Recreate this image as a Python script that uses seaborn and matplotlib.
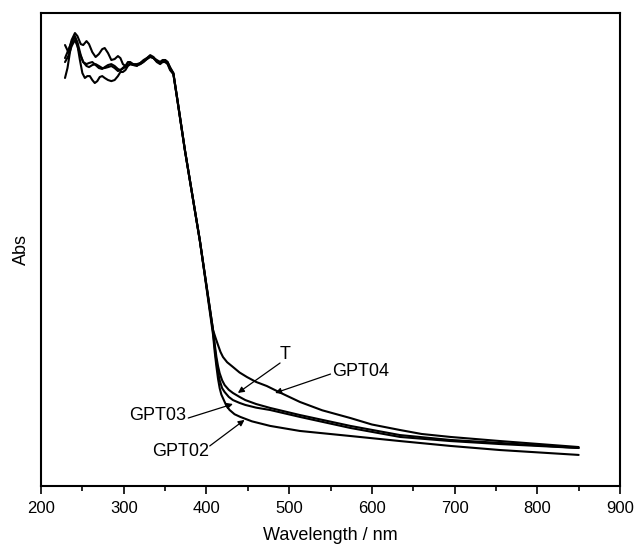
import matplotlib
matplotlib.use("Agg")
import matplotlib.pyplot as plt
import seaborn as sns
import pandas as pd

# UV-vis absorption spectra
wl_gpt04 = [229, 233, 237, 241, 244, 248, 251, 255, 258, 262, 266, 270, 274, 277, 281, 285,
            289, 293, 296, 299, 302, 305, 308, 312, 316, 320, 324, 328, 332, 336, 340, 344,
            347, 350, 353, 356,
            360, 365, 374, 392, 408, 411, 414, 417, 420, 425, 432, 440, 449, 460, 473, 490,
            513, 540, 574, 600, 634, 660, 695, 755, 850]
abs_gpt04 = [2.797, 2.752, 2.829, 2.873, 2.854, 2.803, 2.797, 2.822, 2.803, 2.752, 2.721, 2.740,
             2.771, 2.778, 2.746, 2.702, 2.708, 2.727, 2.714, 2.676, 2.664, 2.689, 2.689, 2.670,
             2.664, 2.683, 2.695, 2.714, 2.733, 2.721, 2.695, 2.683, 2.695, 2.702, 2.689, 2.651,
             2.619, 2.448, 2.131, 1.560, 0.989, 0.940, 0.894, 0.850, 0.818, 0.785, 0.755, 0.720,
             0.691, 0.660, 0.634, 0.590, 0.533, 0.480, 0.431, 0.390, 0.355, 0.330, 0.311, 0.285,
             0.247]

wl_t = [229, 232, 235, 238, 241, 244, 247, 250, 253, 256, 259, 262, 265, 268, 271, 274, 277,
        281, 285, 289, 293, 296, 299, 302, 305, 308, 312, 316, 320, 324, 328, 332, 336, 340,
        344, 347, 350, 353, 356,
        360, 365, 374, 392, 408, 410, 412, 414, 416, 419, 422, 427, 432, 440, 447, 460, 477,
        513, 574, 634, 695, 755, 850]
abs_t = [2.588, 2.651, 2.752, 2.829, 2.854, 2.797, 2.702, 2.619, 2.588, 2.600, 2.600, 2.575,
         2.556, 2.568, 2.594, 2.600, 2.588, 2.575, 2.568, 2.575, 2.600, 2.626, 2.626, 2.638,
         2.664, 2.676, 2.670, 2.670, 2.676, 2.689, 2.708, 2.727, 2.714, 2.689, 2.676, 2.689,
         2.689, 2.676, 2.638,
         2.612, 2.440, 2.125, 1.555, 0.989, 0.900, 0.820, 0.760, 0.715, 0.670, 0.640, 0.610,
         0.590, 0.565, 0.545, 0.520, 0.495, 0.450, 0.381, 0.323, 0.292, 0.273, 0.241]

wl_gpt03 = [229, 233, 237, 241, 244, 248, 251, 255, 258, 262, 266, 270, 274, 277, 281, 285,
            289, 293, 296, 300, 304, 308, 312, 316, 320, 324, 328, 332, 336, 340, 344, 347,
            350, 353, 356,
            360, 365, 374, 392, 408, 410, 412, 414, 416, 419, 422, 427, 432, 440, 447, 460, 477,
            513, 574, 634, 695, 755, 850]
abs_gpt03 = [2.714, 2.765, 2.816, 2.848, 2.816, 2.733, 2.689, 2.664, 2.657, 2.670, 2.676,
             2.664, 2.651, 2.651, 2.657, 2.664, 2.651, 2.632, 2.638, 2.657, 2.670, 2.676, 2.670,
             2.670, 2.676, 2.695, 2.708, 2.721, 2.714, 2.702, 2.689, 2.695, 2.695, 2.683, 2.645,
             2.615, 2.444, 2.128, 1.557, 0.977, 0.880, 0.790, 0.720, 0.670, 0.620, 0.596, 0.565,
             0.545, 0.527, 0.514, 0.497, 0.482, 0.438, 0.368, 0.311, 0.285, 0.266, 0.241]

wl_gpt02 = [229, 233, 237, 241, 244, 248, 251, 255, 258, 262, 266, 270, 274, 277, 281, 285,
            289, 293, 296, 300, 304, 308, 312, 316, 320, 324, 328, 332, 336, 340, 344, 347,
            350, 353, 356,
            360, 365, 374, 392, 408, 410, 412, 414, 416, 418, 421, 424, 428, 434, 441, 455, 477,
            513, 574, 634, 695, 755, 850]
abs_gpt02 = [2.689, 2.727, 2.790, 2.829, 2.790, 2.727, 2.689, 2.676, 2.683, 2.689, 2.670,
             2.651, 2.645, 2.657, 2.670, 2.676, 2.664, 2.645, 2.638, 2.651, 2.664, 2.683, 2.676,
             2.676, 2.683, 2.702, 2.714, 2.727, 2.714, 2.695, 2.689, 2.702, 2.702, 2.689, 2.657,
             2.619, 2.446, 2.130, 1.558, 0.958, 0.850, 0.760, 0.680, 0.620, 0.580, 0.545, 0.510,
             0.482, 0.455, 0.438, 0.410, 0.381, 0.349, 0.317, 0.285, 0.254, 0.228, 0.197]

series = {"GPT04": (wl_gpt04, abs_gpt04), "T": (wl_t, abs_t),
          "GPT03": (wl_gpt03, abs_gpt03), "GPT02": (wl_gpt02, abs_gpt02)}

frames = []
for name, (w, a) in series.items():
    frames.append(pd.DataFrame({"wl": w, "abs": a, "sample": name}))
df = pd.concat(frames, ignore_index=True)

sns.set_theme(style="ticks")
plt.rcParams["font.family"] = ["Liberation Sans", "DejaVu Sans"]
plt.rcParams["text.color"] = "black"
plt.rcParams["axes.labelcolor"] = "black"

fig = plt.figure(figsize=(6.35, 5.52), dpi=100)
ax = fig.add_axes([0.0646, 0.1196, 0.9118, 0.8568])

sns.lineplot(data=df, x="wl", y="abs", hue="sample", palette=["black"] * 4,
             linewidth=1.5, legend=False, ax=ax)

ax.set_xlim(200, 900)
ax.set_ylim(0, 3.0)
ax.set_xticks(range(200, 901, 100))
ax.set_xticks(range(250, 900, 100), minor=True)
ax.set_yticks([])
ax.tick_params(axis="x", which="major", direction="out", length=6, width=1.2,
               labelsize=12, colors="black", pad=5)
ax.tick_params(axis="x", which="minor", direction="out", length=3.5, width=1.2,
               colors="black")
for sp in ax.spines.values():
    sp.set_linewidth(1.5)
    sp.set_color("black")

ax.set_xlabel("Wavelength / nm", fontsize=13, labelpad=8)
ax.set_ylabel("Abs", fontsize=13, labelpad=8)

# labels with arrows
arrow = dict(arrowstyle="-|>", lw=0.9, color="black", shrinkA=0, shrinkB=0,
             mutation_scale=9)
ax.text(495, 0.831, "T", fontsize=13, ha="center", va="center")
ax.annotate("", xy=(438, 0.590), xytext=(489, 0.780), arrowprops=arrow)
ax.text(587, 0.729, "GPT04", fontsize=13, ha="center", va="center")
ax.annotate("", xy=(483, 0.590), xytext=(550, 0.710), arrowprops=arrow)
ax.text(341, 0.450, "GPT03", fontsize=13, ha="center", va="center")
ax.annotate("", xy=(432, 0.520), xytext=(378, 0.431), arrowprops=arrow)
ax.text(369, 0.216, "GPT02", fontsize=13, ha="center", va="center")
ax.annotate("", xy=(446, 0.419), xytext=(404, 0.254), arrowprops=arrow)

fig.savefig("out.png", dpi=100)
